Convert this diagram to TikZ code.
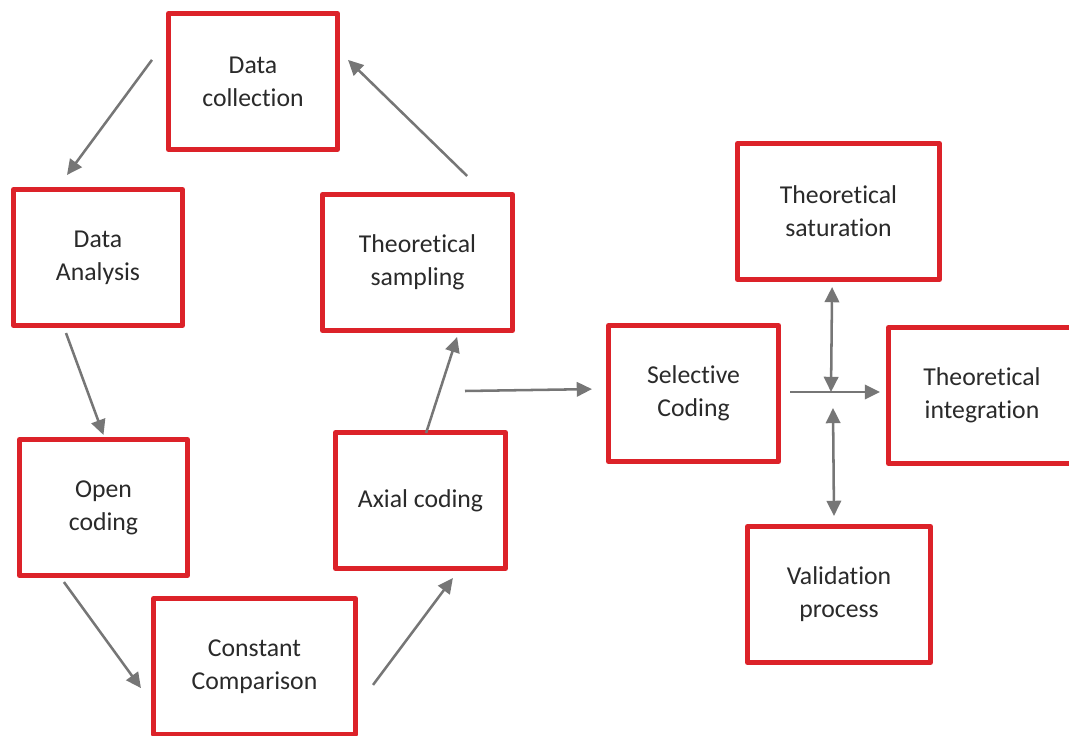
\documentclass[tikz,border=0pt]{standalone}
\usepackage{fontspec}
\setmainfont{Carlito}[Ligatures={NoCommon}]
\usetikzlibrary{arrows.meta}
\definecolor{boxred}{HTML}{DC2229}
\definecolor{arrgray}{HTML}{767676}
\definecolor{txtgray}{HTML}{2A2A2A}

\begin{document}
\begin{tikzpicture}[
    stage/.style={draw=boxred, line width=3.6pt, line join=round, fill=white, inner sep=0pt,
                  minimum width=4.225cm, minimum height=3.4cm, align=center, text=txtgray,
                  font=\fontsize{18.3}{23.4}\selectfont},
    flow/.style={draw=arrgray, line width=1.8pt, -{Triangle[length=0.38cm,width=0.36cm]}},
    both/.style={flow, {Triangle[length=0.38cm,width=0.36cm]}-{Triangle[length=0.38cm,width=0.36cm]}}
  ]
                    \useasboundingbox (0,0) rectangle (26.725,18.375);
                    \clip (0,0) rectangle (26.725,18.375);
                    \node[stage] (dc) at (6.325,16.3375) {Data\\collection};
                    \node[stage] (da) at (2.45,11.9375) {Data\\Analysis};
                    \node[stage, minimum width=4.75cm] (ts) at (10.4375,11.8125) {Theoretical\\sampling};
                    \node[stage, minimum width=4.2cm] (oc) at (2.5875,5.6875) {Open\\coding};
                    \node[stage, minimum width=4.25cm] (ax) at (10.5125,5.8625) {Axial coding};
                    \node[stage, minimum width=5.05cm] (cc) at (6.3625,1.7125) {Constant\\Comparison};
                    \node[stage, minimum width=4.25cm] (sc) at (17.3375,8.5375) {Selective\\Coding};
                    \node[stage, minimum width=5.05cm] (tsat) at (20.9625,13.0875) {Theoretical\\saturation};
                    \node[stage, minimum width=4.675cm] (ti) at (24.55,8.4875) {Theoretical\\integration};
                    \node[stage, minimum width=4.575cm] (vp) at (20.975,3.5125) {Validation\\process};
                    \coordinate (cyc) at (11.625,8.6);
                    \coordinate (jn) at (20.775,8.575);
                    \draw[flow] ([shift={(-0.35,0.54)}]dc.west) -- ([shift={(-0.775,0.3)}]da.north);
                    \draw[flow] ([shift={(1.24,0.4)}]ts.north) -- ([shift={(0.2,0.54)}]dc.east);
                    \draw[flow] ([shift={(-0.8,-0.125)}]da.south) -- ([shift={(0,0.05)}]oc.north);
                    \draw[flow] ([shift={(-0.99,-0.1)}]oc.south) -- ([shift={(-0.25,-0.54)}]cc.west);
                    \draw[flow] ([shift={(0.375,-0.46)}]cc.east) -- ([shift={(0.81,-0.175)}]ax.south);
                    \draw[flow] ([shift={(0.14,-0.075)}]ax.north) -- ([shift={(0.99,-0.1)}]ts.south);
                    \draw[flow] (cyc) -- ([shift={(-0.35,0.11)}]sc.west);
                    \draw[flow] ([shift={(0.225,0)}]sc.east |- jn) -- ([xshift=-0.15cm]ti.west |- jn);
                    \draw[both] ([shift={(-0.16,-0.125)}]tsat.south) -- (jn);
                    \draw[both] ([shift={(0.05,-0.4)}]jn) -- ([shift={(-0.125,0.2)}]vp.north);
                \end{tikzpicture}
\end{document}
